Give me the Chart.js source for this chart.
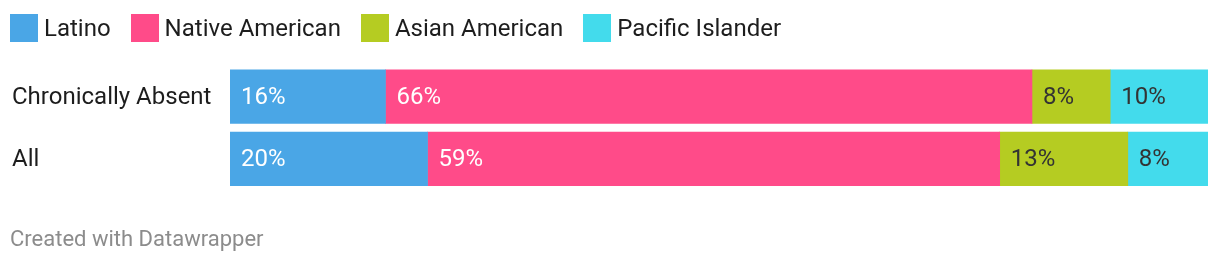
<!DOCTYPE html>
<html>
<head>
<meta charset="utf-8">
<script src="https://cdn.jsdelivr.net/npm/chart.js@4"></script>
<style>
  html,body{margin:0;padding:0;background:#fff;}
  body{width:1220px;height:262px;position:relative;overflow:hidden;font-family:Roboto,"Noto Sans",sans-serif;}
  #legend{position:absolute;left:10px;top:14px;height:28px;display:flex;align-items:center;color:#1d1d1d;font-size:24px;}
  .item{display:flex;align-items:center;}
  .sw{width:28px;height:28px;margin-right:6px;}
  #wrap{position:absolute;left:0;top:0;width:1220px;height:262px;}
  #footer{position:absolute;left:10px;top:226px;font-size:22px;color:#8c8c8c;line-height:26px;}
</style>
</head>
<body>
<div id="wrap"><canvas id="c" width="1220" height="262"></canvas></div>
<div id="legend"></div>
<div id="footer">Created with Datawrapper</div>
<script>
const categories = ["Chronically Absent", "All"];
const seriesNames = ["Latino", "Native American", "Asian American", "Pacific Islander"];
const latino = [15.9, 20.2];
const nativeAmerican = [66.1, 58.5];
const asianAmerican = [8.0, 13.1];
const pacificIslander = [10.0, 8.2];
const colors = ["#4aa6e6", "#ff4b89", "#b5cc22", "#43dbec"];
const labelColors = ["#ffffff", "#ffffff", "#333333", "#333333"];
const seriesValues = [latino, nativeAmerican, asianAmerican, pacificIslander];

// legend
const legend = document.getElementById('legend');
seriesNames.forEach((n, i) => {
  const it = document.createElement('div');
  it.className = 'item';
  it.style.marginRight = (i < 3 ? '20px' : '0');
  it.innerHTML = '<div class="sw" style="background:' + colors[i] + '"></div><span>' + n + '</span>';
  legend.appendChild(it);
});

const labelPlugin = {
  id: 'barLabels',
  afterDatasetsDraw(chart) {
    const ctx = chart.ctx;
    ctx.save();
    ctx.font = '24px Roboto';
    ctx.textBaseline = 'middle';
    ctx.textAlign = 'left';
    chart.data.datasets.forEach((ds, di) => {
      const meta = chart.getDatasetMeta(di);
      meta.data.forEach((bar, i) => {
        const p = bar.getProps(['x', 'y', 'base'], true);
        const left = Math.min(p.x, p.base);
        ctx.fillStyle = labelColors[di];
        ctx.fillText(Math.round(ds.data[i]) + '%', left + 11, p.y + 1);
      });
    });
    ctx.restore();
  }
};

new Chart(document.getElementById('c'), {
  type: 'bar',
  data: {
    labels: categories,
    datasets: seriesNames.map((n, i) => ({
      label: n,
      data: seriesValues[i],
      backgroundColor: colors[i],
      borderWidth: 0,
      barThickness: 53.5
    }))
  },
  options: {
    indexAxis: 'y',
    responsive: false,
    animation: false,
    devicePixelRatio: 1,
    layout: { padding: { left: 12, right: 12, top: 65.5, bottom: 72 } },
    plugins: { legend: { display: false }, tooltip: { enabled: false } },
    scales: {
      x: {
        stacked: true, display: false, min: 0, max: 100
      },
      y: {
        stacked: true,
        grid: { display: false, drawTicks: false },
        border: { display: false },
        ticks: {
          crossAlign: 'far',
          color: '#1d1d1d',
          font: { family: 'Roboto', size: 24 },
          padding: 0,
          labelOffset: 1
        },
        afterFit(scale) { scale.width = 218; }
      }
    }
  },
  plugins: [labelPlugin]
});
</script>
</body>
</html>
